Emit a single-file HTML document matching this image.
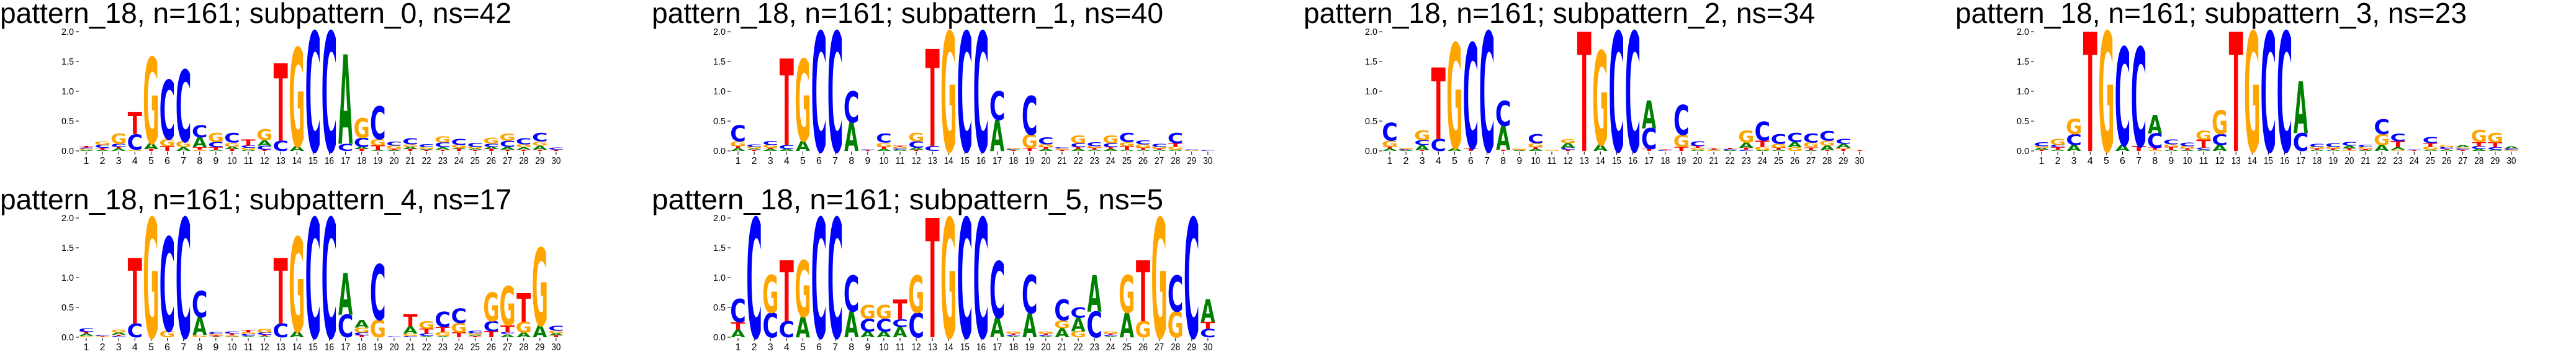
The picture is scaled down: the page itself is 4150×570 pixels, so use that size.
<!DOCTYPE html>
<html><head><meta charset="utf-8">
<style>
html,body{margin:0;padding:0;background:#fff;width:4150px;height:570px;overflow:hidden;}
svg{display:block;overflow:hidden;}
</style></head>
<body>
<svg id="chart" width="4150" height="570" viewBox="0 0 4150 570" xmlns="http://www.w3.org/2000/svg"></svg>
<script>
const titles = [
 "pattern_18, n=161; subpattern_0, ns=42",
 "pattern_18, n=161; subpattern_1, ns=40",
 "pattern_18, n=161; subpattern_2, ns=34",
 "pattern_18, n=161; subpattern_3, ns=23",
 "pattern_18, n=161; subpattern_4, ns=17",
 "pattern_18, n=161; subpattern_5, ns=5"
];
const yTicks = [0, 0.5, 1.0, 1.5, 2.0];
const yTickLabels = ["0.0","0.5","1.0","1.5","2.0"];
const positions = [1,2,3,4,5,6,7,8,9,10,11,12,13,14,15,16,17,18,19,20,21,22,23,24,25,26,27,28,29,30];

const logo0 = [
 [["A",.015],["G",.02],["C",.02],["T",.025]],
 [["A",.01],["T",.04],["C",.05],["G",.06]],
 [["A",.04],["T",.03],["C",.05],["G",.17]],
 [["G",.02],["C",.26],["T",.37]],
 [["T",.03],["A",.1],["G",1.44]],
 [["T",.08],["G",.12],["C",.99]],
 [["A",.06],["G",.1],["C",1.2]],
 [["G",.02],["T",.04],["A",.17],["C",.2]],
 [["A",.02],["T",.04],["C",.09],["G",.15]],
 [["T",.03],["A",.04],["G",.07],["C",.16]],
 [["A",.02],["G",.03],["C",.04],["T",.1]],
 [["T",.02],["C",.07],["A",.09],["G",.18]],
 [["C",.17],["T",1.3]],
 [["A",.08],["G",1.65]],
 [["C",2.0]],
 [["C",2.0]],
 [["C",.12],["A",1.5]],
 [["T",.03],["A",.04],["C",.15],["G",.33]],
 [["A",.01],["T",.08],["G",.11],["C",.55]],
 [["A",.01],["T",.02],["G",.06],["C",.07]],
 [["T",.03],["A",.04],["G",.04],["C",.1]],
 [["T",.02],["A",.01],["G",.03],["C",.05]],
 [["T",.02],["A",.04],["C",.08],["G",.1]],
 [["T",.03],["A",.02],["G",.05],["C",.1]],
 [["T",.02],["A",.02],["G",.03],["C",.07]],
 [["T",.03],["A",.04],["C",.05],["G",.1]],
 [["T",.02],["A",.05],["C",.1],["G",.12]],
 [["T",.02],["A",.04],["G",.05],["C",.1]],
 [["T",.02],["A",.07],["G",.07],["C",.14]],
 [["T",.02],["C",.03]]
];
const logo1 = [
 [["A",.05],["T",.03],["G",.08],["C",.27]],
 [["T",.02],["A",.02],["G",.03],["C",.04]],
 [["A",.03],["T",.02],["G",.05],["C",.07]],
 [["A",.03],["C",.07],["T",1.45]],
 [["A",.17],["G",1.37]],
 [["C",2.0]],
 [["C",2.0]],
 [["A",.48],["C",.52]],
 [["T",.01],["C",.01]],
 [["A",.03],["T",.04],["G",.07],["C",.15]],
 [["A",.02],["C",.02],["G",.03],["T",.02]],
 [["T",.02],["A",.03],["C",.11],["G",.14]],
 [["C",.08],["T",1.63]],
 [["G",2.0]],
 [["C",2.0]],
 [["C",2.0]],
 [["A",.52],["C",.48]],
 [["T",.01],["A",.01],["C",.01],["G",.02]],
 [["T",.05],["G",.22],["C",.65]],
 [["A",.03],["T",.03],["G",.05],["C",.12]],
 [["T",.02],["G",.02],["C",.02]],
 [["A",.03],["T",.03],["C",.07],["G",.13]],
 [["A",.02],["T",.03],["G",.03],["C",.07]],
 [["A",.03],["T",.03],["C",.07],["G",.13]],
 [["A",.02],["T",.06],["G",.07],["C",.15]],
 [["A",.02],["T",.03],["G",.06],["C",.07]],
 [["A",.02],["T",.02],["G",.03],["C",.05]],
 [["A",.02],["G",.05],["T",.06],["C",.17]],
 [["G",.01],["C",.01]],
 [["C",.01]]
];
const logo2 = [
 [["A",.04],["T",.03],["G",.1],["C",.3]],
 [["A",.01],["T",.01],["C",.01],["G",.02]],
 [["T",.01],["A",.09],["C",.08],["G",.16]],
 [["C",.2],["T",1.2]],
 [["A",.05],["G",1.76]],
 [["T",.05],["C",1.76]],
 [["C",2.0]],
 [["T",.02],["A",.4],["C",.42]],
 [["A",.01],["T",.01],["G",.02]],
 [["A",.03],["T",.03],["G",.07],["C",.15]],
 [["G",.01]],
 [["T",.02],["C",.03],["A",.08],["G",.07]],
 [["T",2.0]],
 [["A",.11],["G",1.57]],
 [["C",2.0]],
 [["C",2.0]],
 [["T",.03],["C",.35],["A",.47]],
 [["C",.01],["T",.01]],
 [["T",.07],["G",.2],["C",.5]],
 [["A",.02],["G",.03],["T",.03],["C",.08]],
 [["G",.01],["A",.01],["T",.02]],
 [["A",.01],["C",.02],["T",.02]],
 [["C",.02],["T",.03],["A",.09],["G",.2]],
 [["A",.01],["G",.06],["T",.1],["C",.32]],
 [["A",.02],["T",.03],["G",.07],["C",.16]],
 [["G",.06],["A",.09],["C",.15]],
 [["A",.01],["T",.05],["G",.08],["C",.15]],
 [["T",.01],["A",.08],["G",.08],["C",.16]],
 [["T",.03],["G",.02],["A",.07],["C",.08]],
 [["T",.01]]
];
const logo3 = [
 [["T",.02],["A",.03],["G",.03],["C",.07]],
 [["A",.02],["T",.04],["C",.04],["G",.1]],
 [["A",.1],["C",.18],["G",.26]],
 [["T",2.0]],
 [["G",2.0]],
 [["A",.1],["C",1.64]],
 [["T",.08],["C",1.66]],
 [["G",.02],["T",.03],["C",.24],["A",.31]],
 [["A",.02],["T",.05],["G",.04],["C",.08]],
 [["A",.01],["T",.03],["G",.04],["C",.06]],
 [["A",.02],["C",.03],["T",.14],["G",.15]],
 [["A",.1],["C",.18],["G",.4]],
 [["T",2.0]],
 [["G",2.0]],
 [["C",2.0]],
 [["C",2.0]],
 [["C",.3],["A",.87]],
 [["A",.02],["T",.02],["G",.03],["C",.05]],
 [["A",.02],["T",.02],["G",.03],["C",.06]],
 [["G",.01],["T",.03],["A",.05],["C",.06]],
 [["A",.01],["T",.02],["G",.03],["C",.04]],
 [["A",.1],["G",.18],["C",.25]],
 [["G",.02],["A",.04],["T",.1],["C",.13]],
 [["T",.01],["C",.01]],
 [["A",.02],["G",.05],["T",.06],["C",.1]],
 [["A",.02],["T",.01],["C",.03],["G",.03]],
 [["T",.02],["C",.02],["G",.02],["A",.03]],
 [["A",.03],["C",.05],["T",.07],["G",.2]],
 [["A",.02],["C",.04],["T",.08],["G",.16]],
 [["G",.01],["T",.01],["C",.02],["A",.03]]
];
const logo4 = [
 [["G",.02],["A",.04],["T",.03],["C",.06]],
 [["G",.01],["T",.01],["C",.01]],
 [["C",.02],["T",.02],["A",.04],["G",.05]],
 [["C",.23],["T",1.1]],
 [["G",2.0]],
 [["G",.11],["C",1.57]],
 [["C",2.0]],
 [["G",.04],["A",.3],["C",.44]],
 [["A",.01],["T",.02],["G",.02],["C",.03]],
 [["A",.01],["G",.02],["T",.03],["C",.03]],
 [["A",.02],["C",.03],["G",.03],["T",.05]],
 [["A",.02],["T",.02],["C",.04],["G",.06]],
 [["C",.23],["T",1.1]],
 [["A",.1],["G",1.58]],
 [["C",2.0]],
 [["C",2.0]],
 [["C",.38],["A",.7]],
 [["T",.03],["C",.05],["G",.08],["A",.13]],
 [["G",.29],["C",.93]],
 [["C",.01]],
 [["C",.02],["G",.04],["A",.12],["T",.2]],
 [["A",.02],["C",.04],["T",.08],["G",.13]],
 [["A",.02],["G",.07],["T",.08],["C",.26]],
 [["T",.08],["G",.16],["C",.24]],
 [["T",.02],["A",.02],["G",.03],["C",.04]],
 [["T",.1],["C",.17],["G",.48]],
 [["A",.05],["C",.03],["T",.12],["G",.66]],
 [["A",.08],["G",.18],["T",.48]],
 [["A",.2],["G",1.3]],
 [["T",.03],["A",.04],["G",.04],["C",.08]]
];
const logo5 = [
 [["A",.13],["T",.12],["C",.39]],
 [["C",2.0]],
 [["C",.41],["G",.63]],
 [["C",.27],["T",1.02]],
 [["A",.35],["G",.94]],
 [["C",2.0]],
 [["C",2.0]],
 [["A",.43],["C",.6]],
 [["A",.1],["C",.21],["G",.23]],
 [["A",.1],["C",.21],["G",.23]],
 [["A",.17],["C",.13],["T",.33]],
 [["C",.41],["G",.62]],
 [["T",2.0]],
 [["G",2.0]],
 [["C",2.0]],
 [["C",2.0]],
 [["A",.33],["C",.95]],
 [["A",.02],["C",.02],["T",.02],["G",.03]],
 [["A",.4],["C",.64]],
 [["A",.02],["C",.02],["T",.02],["G",.03]],
 [["A",.15],["G",.13],["C",.35]],
 [["G",.1],["A",.23],["C",.17]],
 [["C",.43],["A",.61]],
 [["A",.02],["C",.02],["T",.02],["G",.03]],
 [["A",.41],["G",.63]],
 [["G",.27],["T",1.02]],
 [["G",2.0]],
 [["G",.43],["C",.6]],
 [["C",2.0]],
 [["C",.14],["T",.12],["A",.38]]
];
const logos = [logo0, logo1, logo2, logo3, logo4, logo5];

const NS = "http://www.w3.org/2000/svg";
const svg = document.getElementById("chart");
const COLORS = {A:"#008000", C:"#0000ff", G:"#ffa500", T:"#ff0000"};
const INKW = {A:77, C:66, G:72, T:68};
const PXBIT = 96, STEP = 26.1, LW = 23;

function mk(tag, attrs, parent) {
  const e = document.createElementNS(NS, tag);
  for (const k in attrs) e.setAttribute(k, attrs[k]);
  (parent || svg).appendChild(e);
  return e;
}

logos.forEach((logo, p) => {
  const col = p % 4, row = Math.floor(p / 4);
  const x1 = 139 + 1050 * col;
  const y0 = 243 + 300 * row;
  const xs = i => x1 + (i - 1) * STEP;
  const ys = v => y0 - v * PXBIT;

  const g = mk("g", {});
  
  

  const t = mk("text", {x: x1 - 139, y: y0 - 206, "font-family": "Liberation Sans, DejaVu Sans, sans-serif",
    "font-size": 46, textLength: 824, lengthAdjust: "spacingAndGlyphs", fill: "#000"}, g);
  t.textContent = titles[p];
  
  

  yTicks.forEach((v, k) => {
    const tk = mk("line", {x1: x1 - 17, x2: x1 - 12, y1: ys(v), y2: ys(v), stroke: "#000", "stroke-width": 1}, g);
    
    
    const lb = mk("text", {x: x1 - 20, y: ys(v) + 5, "text-anchor": "end", "font-family": "Liberation Sans, sans-serif",
      "font-size": 15, textLength: 20, lengthAdjust: "spacingAndGlyphs", fill: "#000"}, g);
    lb.textContent = yTickLabels[k];
    
    
  });

  positions.forEach(pos => {
    const tk = mk("line", {x1: xs(pos), x2: xs(pos), y1: y0 + 1, y2: y0 + 6, stroke: "#000", "stroke-width": 1}, g);
    
    
    const lb = mk("text", {x: xs(pos), y: y0 + 21, "text-anchor": "middle", "font-family": "Liberation Sans, sans-serif",
      "font-size": 16, fill: "#000"}, g);
    if (pos >= 10) { lb.setAttribute("textLength", 15); lb.setAttribute("lengthAdjust", "spacingAndGlyphs"); }
    lb.textContent = pos;
    
    
  });

  logo.forEach((stack, i) => {
    const pos = positions[i];
    let cum = 0;
    stack.forEach(([L, v]) => {
      const yb = ys(cum), yt = ys(cum + v);
      cum += v;
      const h = yb - yt;
      if (h <= 0.05) return;
      const sx = LW / INKW[L], sy = h / 72.9;
      const lt = mk("text", {x: 0, y: 0, "text-anchor": "middle", "font-family": "DejaVu Sans, Liberation Sans, sans-serif",
        "font-weight": "bold", "font-size": 100, fill: COLORS[L],
        transform: `translate(${xs(pos)},${yb}) scale(${sx},${sy})`}, g);
      lt.textContent = L;
      
      
    });
  });
});
</script>
</body></html>
